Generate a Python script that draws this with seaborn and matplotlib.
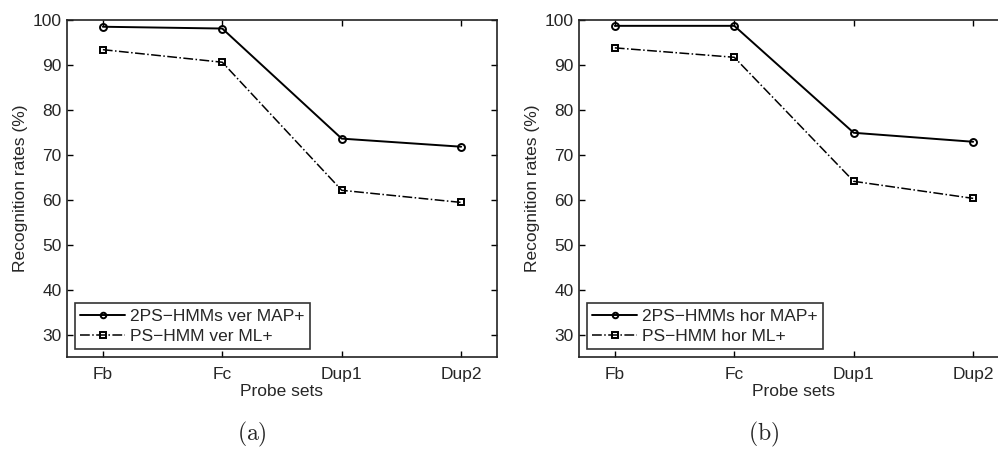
import numpy as np
import pandas as pd
import matplotlib
matplotlib.use('Agg')
import matplotlib.pyplot as plt
import seaborn as sns

probe_sets = ['Fb', 'Fc', 'Dup1', 'Dup2']

ver_map = [98.5, 98.1, 73.6, 71.8]
ver_ml = [93.4, 90.6, 62.1, 59.4]
hor_map = [98.7, 98.7, 74.9, 72.9]
hor_ml = [93.8, 91.7, 64.1, 60.3]

labels_a = ['2PS\u2212HMMs ver MAP+', 'PS\u2212HMM ver ML+']
labels_b = ['2PS\u2212HMMs hor MAP+', 'PS\u2212HMM hor ML+']

sns.set_style('ticks')
plt.rcParams['font.family'] = ['Liberation Sans', 'DejaVu Sans']
plt.rcParams['mathtext.fontset'] = 'cm'

fig = plt.figure(figsize=(9.98, 4.49), dpi=100)
ax1 = fig.add_axes([67/998, 92/449, 430/998, 337/449])
ax2 = fig.add_axes([579/998, 92/449, 430/998, 337/449])

fs = 12.5


def panel(ax, map_vals, ml_vals, labels):
	sns.lineplot(x=probe_sets, y=map_vals, ax=ax, color='black', linestyle='-',
		marker='o', markersize=5, markerfacecolor='none', markeredgecolor='black',
		markeredgewidth=1.4, linewidth=1.4, label=labels[0], sort=False)
	sns.lineplot(x=probe_sets, y=ml_vals, ax=ax, color='black', linestyle='-.',
		marker='s', markersize=5, markerfacecolor='none', markeredgecolor='black',
		markeredgewidth=1.4, linewidth=1.1, label=labels[1], sort=False)
	ax.set_xlim(-0.3, 3.3)
	ax.set_ylim(25, 100)
	ax.set_yticks(np.arange(30, 101, 10))
	ax.set_xticks(range(4))
	ax.set_xticklabels(probe_sets)
	ax.tick_params(axis='both', direction='in', top=True, right=True, length=4,
		width=1.0, labelsize=fs, color='black')
	ax.tick_params(axis='x', pad=7)
	ax.tick_params(axis='y', pad=4)
	for s in ax.spines.values():
		s.set_linewidth(1.2)
		s.set_color('#222222')
	ax.set_xlabel('Probe sets', size=fs, labelpad=2)
	ax.set_ylabel('Recognition rates (%)', size=fs, labelpad=3)
	leg = ax.legend(loc='lower left', bbox_to_anchor=(0.0, 0.0), fontsize=fs,
		frameon=True, fancybox=False, edgecolor='black', handlelength=2.6,
		handletextpad=0.3, borderpad=0.3, labelspacing=0.3, borderaxespad=0.45)
	leg.get_frame().set_linewidth(1.2)
	for h in leg.get_lines():
		h.set_markersize(4)


panel(ax1, ver_map, ver_ml, labels_a)
panel(ax2, hor_map, hor_ml, labels_b)

fig.text(252/998, 1 - 434/449, r'$\mathrm{(a)}$', ha='center', va='center', size=17)
fig.text(764/998, 1 - 434/449, r'$\mathrm{(b)}$', ha='center', va='center', size=17)

plt.savefig('out.png', dpi=100)
